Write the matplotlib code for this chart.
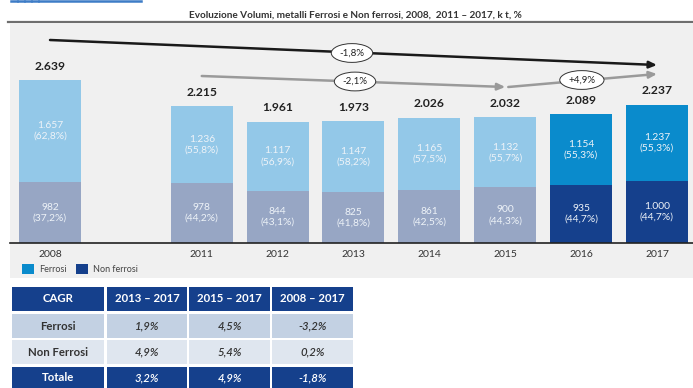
import matplotlib
matplotlib.use("Agg")
import matplotlib.pyplot as plt
from matplotlib.patches import Rectangle

# ---------------- data ----------------
years = ['2008', '2011', '2012', '2013', '2014', '2015', '2016', '2017']
ferrosi = [1657, 1236, 1117, 1147, 1165, 1132, 1154, 1237]
non_ferrosi = [982, 978, 844, 825, 861, 900, 935, 1000]
totals = [2639, 2215, 1961, 1973, 2026, 2032, 2089, 2237]
ferrosi_pct = ['62,8', '55,8', '56,9', '58,2', '57,5', '55,7', '55,3', '55,3']
nonf_pct = ['37,2', '44,2', '43,1', '41,8', '42,5', '44,3', '44,7', '44,7']

cagr_labels = ['-1,8%', '-2,1%', '+4,9%']

table_header = ['CAGR', '2013 – 2017', '2015 – 2017', '2008 – 2017']
table_rows = ['Ferrosi', 'Non Ferrosi', 'Totale']
table_ferrosi = ['1,9%', '4,5%', '-3,2%']
table_nonferrosi = ['4,9%', '5,4%', '0,2%']
table_totale = ['3,2%', '4,9%', '-1,8%']

title = 'Evoluzione Volumi, metalli Ferrosi e Non ferrosi, 2008,  2011 – 2017, k t, %'

# ---------------- style ----------------
FONT = ['Lato', 'DejaVu Sans']
plt.rcParams['font.family'] = FONT
c_fer_light = '#93c8e8'
c_non_light = '#97a6c4'
c_fer_dark = '#0a8bcc'
c_non_dark = '#15408c'
c_tab_head = '#15408c'
c_tab_r1 = '#c3d1e3'
c_tab_r2 = '#dfe6ef'
label_col = '#eef3f8'

W, H = 693, 388
fig = plt.figure(figsize=(W / 100, H / 100), dpi=100)
fig.patch.set_facecolor('white')

def fx(px):
    return px / W

def fy(py):
    return 1 - py / H

# top decorative blue line
for a, b in [(11, 17), (18, 24), (25, 31), (32, 38), (39, 141)]:
    fig.add_artist(plt.Line2D([fx(a), fx(b)], [fy(0.8), fy(0.8)], color='#3d7cc6', lw=1.8))

# title
fig.text(fx(355), fy(15), title, ha='center', va='center', fontsize=7.2,
         fontweight='bold', color='#333333', family=['Liberation Sans Narrow', 'Lato', 'DejaVu Sans'])
# gray rule under title
fig.add_artist(plt.Line2D([fx(8), fx(693)], [fy(22), fy(22)], color='#6e6e6e', lw=1.6))
# panel background
fig.add_artist(Rectangle((fx(10), fy(278)), fx(683), (278 - 24) / H, facecolor='#f0f0f0',
                         edgecolor='none', transform=fig.transFigure, zorder=0))

# ---------------- bar chart ----------------
base_px, top_px = 243, 24
ax = fig.add_axes([fx(10), fy(base_px), fx(683), (base_px - top_px) / H])
ax.set_facecolor('none')
step = 75.875
x0 = (10 - 50) / step
ax.set_xlim(x0, x0 + 683 / step)
scale = (243 - 80) / 2639.0
ax.set_ylim(0, (base_px - top_px) / scale)

xpos = [i + (1 if i > 0 else 0) for i in range(len(years))]
bw = 62 / step
fmt = lambda v: f'{v:,}'.replace(',', '.')
for i, x in enumerate(xpos):
    dark = years[i] in ('2016', '2017')
    cf = c_fer_dark if dark else c_fer_light
    cn = c_non_dark if dark else c_non_light
    ax.bar(x, non_ferrosi[i], width=bw, color=cn, edgecolor='none', zorder=2)
    ax.bar(x, ferrosi[i], bottom=non_ferrosi[i], width=bw, color=cf, edgecolor='none', zorder=2)
    ax.text(x, non_ferrosi[i] / 2, f'{fmt(non_ferrosi[i])}\n({nonf_pct[i]}%)', ha='center',
            va='center', fontsize=7.4, color=label_col, linespacing=1.25, zorder=3)
    ax.text(x, non_ferrosi[i] + ferrosi[i] / 2, f'{fmt(ferrosi[i])}\n({ferrosi_pct[i]}%)',
            ha='center', va='center', fontsize=7.4, color=label_col, linespacing=1.25, zorder=3)
    ax.annotate(fmt(totals[i]), (x, totals[i]), xytext=(0, 10), textcoords='offset points',
                ha='center', va='center', fontsize=8.7, fontweight='bold', color='#222222')

for s in ['top', 'right', 'left']:
    ax.spines[s].set_visible(False)
ax.spines['bottom'].set_color('#222222')
ax.spines['bottom'].set_linewidth(1.2)
ax.set_yticks([])
ax.set_xticks(xpos)
ax.set_xticklabels(years, fontsize=7.5, color='#333333')
ax.tick_params(axis='x', length=0, pad=5)

# trend arrows (y levels in data units)
def px2v(py):
    return (base_px - py) / scale

arrow_k = dict(arrowstyle='-|>,head_length=0.45,head_width=0.2', lw=1.8, shrinkA=0, shrinkB=0)
ax.annotate('', xy=(xpos[-1], px2v(65)), xytext=(xpos[0], px2v(40)),
            arrowprops=dict(color='#1a1a1a', **arrow_k), zorder=4)
ax.annotate('', xy=(xpos[5], px2v(87)), xytext=(xpos[1], px2v(76)),
            arrowprops=dict(color='#9a9a9a', **arrow_k), zorder=4)
ax.annotate('', xy=(xpos[-1], px2v(74)), xytext=(xpos[5] + 0.04, px2v(87)),
            arrowprops=dict(color='#9a9a9a', **arrow_k), zorder=4)

bb = dict(boxstyle='ellipse,pad=0.22', fc='white', ec='#333333', lw=0.7)
ax.text(3.98, px2v(53), cagr_labels[0], ha='center', va='center', fontsize=7,
        color='#222222', bbox=bb, zorder=5)
ax.text(4.02, px2v(81.5), cagr_labels[1], ha='center', va='center', fontsize=7,
        color='#222222', bbox=bb, zorder=5)
ax.text(7.01, px2v(80), cagr_labels[2], ha='center', va='center', fontsize=7,
        color='#222222', bbox=bb, zorder=5)

# legend
for (xa, col, lab) in [(22, c_fer_dark, 'Ferrosi'), (76, c_non_dark, 'Non ferrosi')]:
    fig.add_artist(Rectangle((fx(xa), fy(274)), fx(12), 10 / H, facecolor=col,
                             edgecolor='none', transform=fig.transFigure))
    fig.text(fx(xa + 17), fy(269), lab, ha='left', va='center', fontsize=6.5, color='#444444')

# ---------------- table ----------------
cols = [(12, 104), (107, 187), (189, 270), (272, 353)]
rows_y = [(287, 311), (314, 338), (340, 364), (367, 391)]
row_bg = [c_tab_head, c_tab_r1, c_tab_r2, c_tab_head]
row_cells = [table_header,
             [table_rows[0]] + table_ferrosi,
             [table_rows[1]] + table_nonferrosi,
             [table_rows[2]] + table_totale]
for r, (ya, yb) in enumerate(rows_y):
    for c, (xa, xb) in enumerate(cols):
        fig.add_artist(Rectangle((fx(xa), fy(yb)), fx(xb - xa), (yb - ya) / H,
                                 facecolor=row_bg[r], edgecolor='none', transform=fig.transFigure))
        light = r in (0, 3)
        txt = row_cells[r][c]
        if r == 0 or c == 0:
            style, weight = 'normal', 'bold'
        else:
            style, weight = 'italic', 'semibold'
        fig.text(fx((xa + xb) / 2), fy((ya + yb) / 2 + (-1.5 if r == 3 else 0)), txt,
                 ha='center', va='center', fontsize=8.2,
                 color='white' if light else '#333333', fontstyle=style, fontweight=weight)

fig.savefig('out.png', dpi=100, facecolor='white')
